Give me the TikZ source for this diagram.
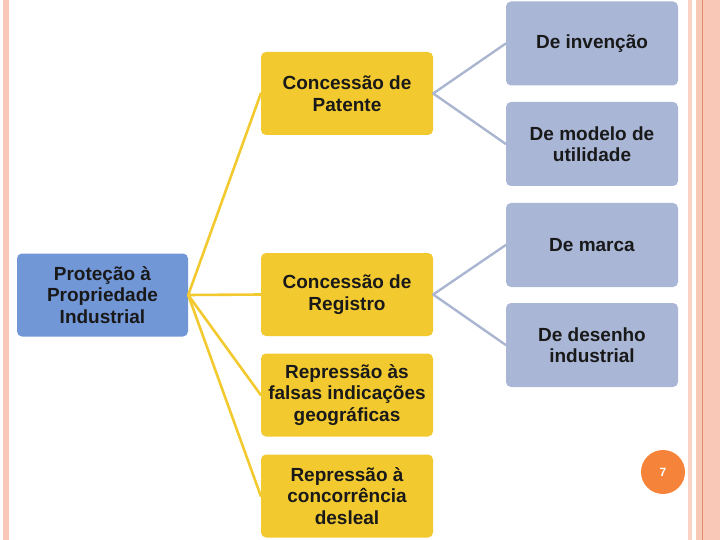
\documentclass[tikz,border=0pt]{standalone}
\usepackage{fontspec}
\setmainfont{Liberation Sans}
\definecolor{rootblue}{RGB}{114,151,215}
\definecolor{gold}{RGB}{242,202,48}
\definecolor{slate}{RGB}{169,182,214}
\definecolor{slateline}{RGB}{170,181,208}
\definecolor{peach}{RGB}{249,200,182}
\definecolor{peachdark}{RGB}{224,140,105}
\definecolor{pageorange}{RGB}{245,132,58}
\begin{document}
\begin{tikzpicture}[x=1pt, y=-1pt, line join=round, line cap=round,
    box/.style={rectangle, rounded corners=5pt, align=center, inner sep=2pt,
      font=\bfseries\fontsize{19}{21.5}\selectfont, text=black!90},
    rootbox/.style={box, fill=rootblue, minimum width=171pt, minimum height=83pt},
    catbox/.style={box, fill=gold, minimum width=172pt, minimum height=83pt},
    subbox/.style={box, fill=slate, minimum width=172pt, minimum height=84pt},
    yline/.style={gold, line width=2.6pt},
    gline/.style={slateline, line width=2.4pt}]
    \useasboundingbox (0,0) rectangle (720,540);
    % frame stripes
    \fill[peach] (3,0) rectangle (9,540);
    \fill[peach!80] (688,0) rectangle (692,540);
    \fill[peach] (696,0) rectangle (720,540);
    \draw[peachdark, line width=.8pt] (702.5,0)--(702.5,540);
    % nodes
    \node[rootbox] (prot) at (102.5,295) {Proteção à\\Propriedade\\Industrial};
    \node[catbox] (pat) at (347,93.5) {Concessão de\\Patente};
    \node[catbox] (reg) at (347,294.5) {Concessão de\\Registro};
    \node[catbox] (geo) at (347,395) {Repressão às\\falsas indicações\\geográficas};
    \node[catbox] (conc) at (347,496) {Repressão à\\concorrência\\desleal};
    \node[subbox] (inv) at (592,43.5) {De invenção};
    \node[subbox] (util) at (592,144) {De modelo de\\utilidade};
    \node[subbox] (marca) at (592,245) {De marca};
    \node[subbox] (des) at (592,345) {De desenho\\industrial};
    % connectors
    \foreach \c in {pat,reg,geo,conc}
    \draw[yline] (prot.east)--(\c.west);
    \foreach \c in {inv,util}
    \draw[gline] (pat.east)--(\c.west);
    \foreach \c in {marca,des}
    \draw[gline] (reg.east)--(\c.west);
    % page number
    \node[circle, fill=pageorange, minimum size=44pt, inner sep=0pt, text=white,
      font=\bfseries\fontsize{12}{14}\selectfont] (pg) at (663,472) {7};
\end{tikzpicture}
\end{document}
